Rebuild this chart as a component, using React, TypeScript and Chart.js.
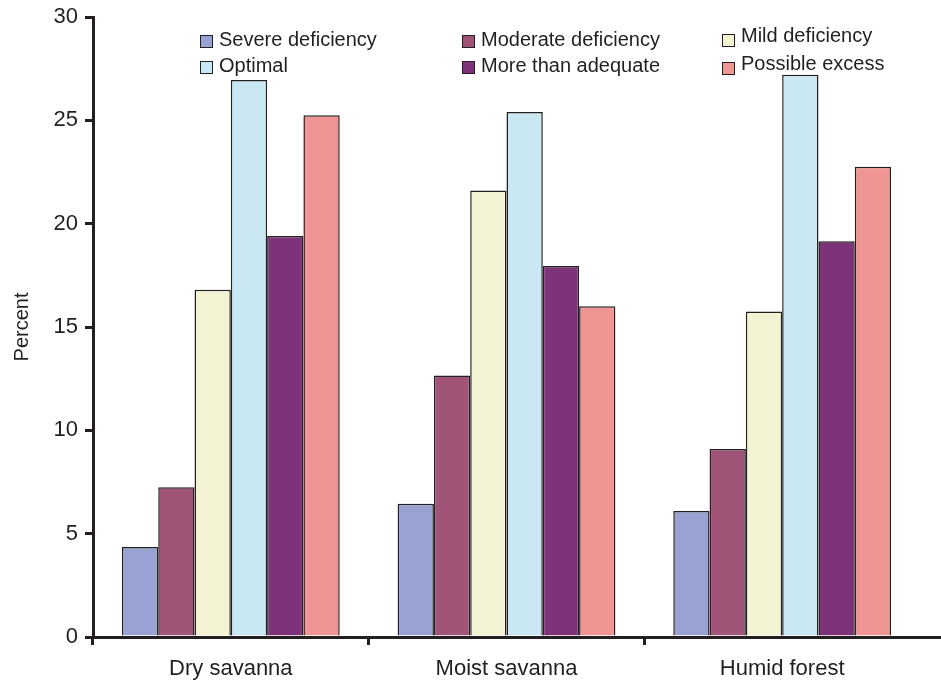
import React, { useEffect, useRef } from "react";
import { Chart, registerables } from "chart.js";

Chart.register(...registerables);

const categories = ["Dry savanna", "Moist savanna", "Humid forest"];
const seriesNames = [
  "Severe deficiency",
  "Moderate deficiency",
  "Mild deficiency",
  "Optimal",
  "More than adequate",
  "Possible excess",
];
const severe = [4.35, 6.45, 6.1];
const moderate = [7.25, 12.65, 9.1];
const mild = [16.8, 21.6, 15.75];
const optimal = [26.95, 25.4, 27.2];
const moreThanAdequate = [19.4, 17.95, 19.15];
const possibleExcess = [25.25, 16.0, 22.75];
const seriesValues = [severe, moderate, mild, optimal, moreThanAdequate, possibleExcess];
const colors = ["#99a3d3", "#a05478", "#f3f2d3", "#cae8f3", "#7e327a", "#ef9593"];
const yTicks = [0, 5, 10, 15, 20, 25, 30];

const INK = "#231f20";
const FONT = "'Liberation Sans', Arial, sans-serif";

// legend layout: [left, top] of each item (row-major: 3 columns, 2 rows)
const legendPos: [number, number][] = [
  [200, 27],
  [462, 27],
  [722, 23],
  [200, 53],
  [462, 53],
  [722, 51],
];

export default function App() {
  const canvasRef = useRef<HTMLCanvasElement | null>(null);

  useEffect(() => {
    document.body.style.margin = "0";
    const canvas = canvasRef.current;
    if (!canvas) return;

    const extendAxis = {
      id: "extendAxis",
      afterDraw(chart: any) {
        const { ctx, chartArea } = chart;
        const xs = chart.scales.x;
        ctx.save();
        ctx.strokeStyle = INK;
        ctx.lineWidth = 3;
        ctx.beginPath();
        const y = Math.round(xs.top - 1.5) + 1.5;
        ctx.moveTo(chartArea.right - 3, y);
        ctx.lineTo(chart.width, y);
        ctx.stroke();
        ctx.restore();
      },
    };

    const chart = new Chart(canvas, {
      type: "bar",
      data: {
        labels: categories,
        datasets: seriesValues.map((vals, i) => ({
          label: seriesNames[i],
          data: vals,
          backgroundColor: colors[i],
          borderColor: INK,
          borderWidth: 1.5,
          categoryPercentage: 0.79,
          barPercentage: 1,
        })),
      },
      options: {
        animation: false,
        responsive: false,
        maintainAspectRatio: false,
        layout: { padding: { top: 17, right: 21, left: 0, bottom: 0 } },
        plugins: {
          legend: { display: false },
          tooltip: { enabled: false },
        },
        scales: {
          x: {
            type: "category",
            offset: true,
            grid: {
              offset: true,
              drawOnChartArea: false,
              drawTicks: true,
              tickLength: 8,
              lineWidth: 3,
              color: (ctx: any) => (ctx.type === "tick" ? INK : "rgba(0,0,0,0)"),
            },
            border: { display: true, color: INK, width: 3 },
            ticks: {
              color: INK,
              font: { family: FONT, size: 22 },
              padding: 11,
            },
            afterFit: (scale: any) => {
              scale.height = 51;
              scale.paddingLeft = 0;
              scale.paddingRight = 0;
            },
          },
          y: {
            min: 0,
            max: 30,
            afterBuildTicks: (scale: any) => {
              scale.ticks = yTicks.map((v) => ({ value: v }));
            },
            grid: {
              drawOnChartArea: false,
              drawTicks: true,
              tickLength: 8,
              lineWidth: 3,
              color: INK,
            },
            border: { display: true, color: INK, width: 3 },
            ticks: {
              color: INK,
              font: { family: FONT, size: 22 },
              padding: 7,
            },
            title: {
              display: true,
              text: "Percent",
              color: INK,
              font: { family: FONT, size: 20 },
              padding: { top: 10, bottom: 0 },
            },
            afterFit: (scale: any) => {
              scale.width = 93;
              scale.paddingTop = 0;
              scale.paddingBottom = 0;
            },
          },
        },
      },
      plugins: [extendAxis],
    });

    return () => {
      chart.destroy();
    };
  }, []);

  return (
    <div style={{ position: "relative", width: 941, height: 688, background: "#fff" }}>
      <canvas ref={canvasRef} width={941} height={688} style={{ display: "block" }} />
      {seriesNames.map((name, i) => (
        <div
          key={name}
          style={{
            position: "absolute",
            left: legendPos[i][0],
            top: legendPos[i][1],
            display: "flex",
            alignItems: "center",
            fontFamily: FONT,
            fontSize: 20,
            color: INK,
            lineHeight: "24px",
            whiteSpace: "nowrap",
          }}
        >
          <span
            style={{
              display: "inline-block",
              width: 11,
              height: 11,
              background: colors[i],
              border: `1.5px solid ${INK}`,
              marginRight: 6,
              marginTop: i === 2 || i === 5 ? 10 : 4,
            }}
          />
          <span>{name}</span>
        </div>
      ))}
    </div>
  );
}
